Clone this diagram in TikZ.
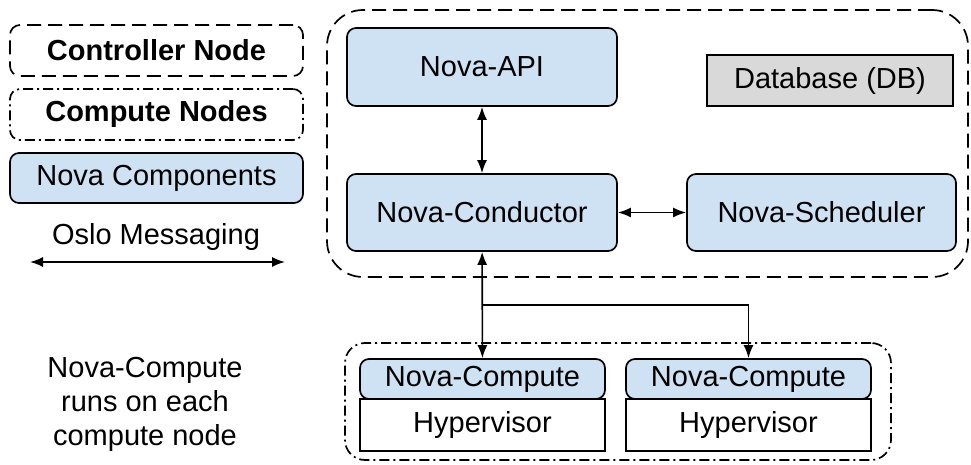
\documentclass[tikz,border=0pt]{standalone}
\usepackage{fontspec}
\setmainfont{Liberation Sans}
\usepackage{xcolor}
\usepackage{tikz}
\usetikzlibrary{arrows.meta}

\definecolor{novablue}{HTML}{CFE2F3}
\definecolor{dbgray}{HTML}{D9D9D9}

\tikzset{
  novabox/.style={draw, line width=1.7pt, fill=novablue, rounded corners=9pt, inner sep=0pt},
  plainbox/.style={draw, line width=1.7pt, fill=white, inner sep=0pt},
  ctrldash/.style={draw, line width=1.7pt, dash pattern=on 14pt off 7pt, inner sep=0pt},
  cmpdash/.style={draw, line width=1.7pt, dash pattern=on 10pt off 4pt on 2pt off 4pt, inner sep=0pt},
}

\begin{document}
\begin{tikzpicture}[x=1pt,y=-1pt,font=\fontsize{29}{34}\selectfont]
	\useasboundingbox (0,0) rectangle (971,465);
	% legend
	\node[ctrldash, rounded corners=10pt, minimum width=293pt, minimum height=51pt] (legctrl) at (156.5,50.5) {\bfseries Controller Node};
	\node[cmpdash, rounded corners=10pt, minimum width=293pt, minimum height=51pt] (legcmp) at (156.5,114.5) {\bfseries Compute Nodes};
	\node[novabox, minimum width=293pt, minimum height=50pt] (legnova) at (156.5,178) {Nova Components};
	\node (legoslo) at (156,237) {Oslo Messaging};
	\coordinate (legl) at (30,262);
	\coordinate (legr) at (285,262);
	\node[align=center] (note) at (145,404) {Nova-Compute\\runs on each\\compute node};
	%
	% controller node
	\node[ctrldash, rounded corners=36pt, minimum width=641pt, minimum height=267pt] (ctrl) at (647.5,143.5) {};
	\node[novabox, minimum width=270pt, minimum height=78pt] (api) at (482,67) {Nova-API};
	\node[plainbox, fill=dbgray, minimum width=246pt, minimum height=51pt] (db) at (830,80.5) {Database (DB)};
	\node[novabox, minimum width=270pt, minimum height=77pt] (conductor) at (482,212.5) {Nova-Conductor};
	\node[novabox, minimum width=269pt, minimum height=77pt] (scheduler) at (821.5,212.5) {Nova-Scheduler};
	%
	% compute nodes
	\node[cmpdash, rounded corners=20pt, minimum width=546pt, minimum height=117pt] (cmp) at (618,401.5) {};
	\node[plainbox, minimum width=245pt, minimum height=52pt] (hypA) at (482.5,425) {Hypervisor};
	\node[novabox, minimum width=245pt, minimum height=40pt] (compA) at (482.5,379) {Nova-Compute};
	\node[plainbox, minimum width=245pt, minimum height=52pt] (hypB) at (748.5,425) {Hypervisor};
	\node[novabox, minimum width=245pt, minimum height=40pt] (compB) at (748.5,379) {Nova-Compute};
	\coordinate (split) at (482,305);
	%
	\path[<->, line width=1.6pt, >={Latex[length=13pt,width=10pt]}]
	(legl) edge (legr)
	(api) edge (conductor)
	(conductor) edge (scheduler)
	(conductor) edge (compA);
	\draw[->, line width=1.6pt, >={Latex[length=13pt,width=10pt]}] (split) -| (compB);
\end{tikzpicture}
\end{document}
